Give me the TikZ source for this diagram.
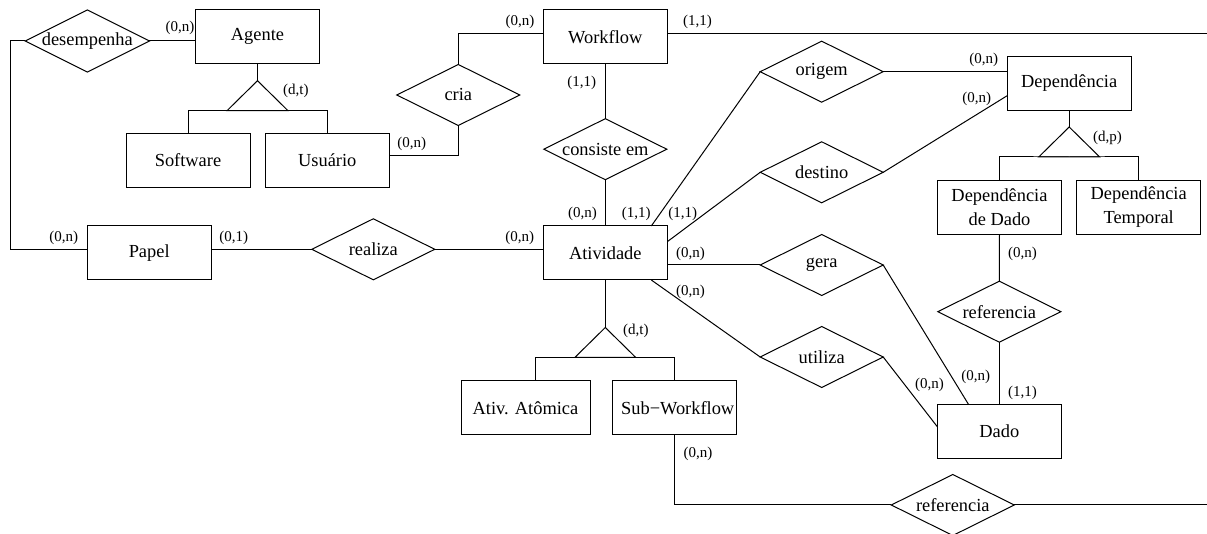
\documentclass[tikz,border=0pt]{standalone}
\usepackage{fontspec}
\setmainfont{Liberation Serif}
\usetikzlibrary{shapes.geometric}
\begin{document}
\begin{tikzpicture}[x=0.5pt,y=-0.5pt,line width=0.5pt,
  entity/.style={draw,rectangle,inner sep=0pt,outer sep=0pt,minimum width=62pt,minimum height=27pt,
    font=\fontsize{9.2}{11.8}\selectfont,align=center},
  rel/.style={draw,diamond,shape aspect=2,inner sep=0pt,outer sep=0pt,minimum width=61.5pt,
    minimum height=30.5pt,font=\fontsize{9.2}{11}\selectfont},
  card/.style={inner sep=0pt,font=\fontsize{7.5}{9}\selectfont}]
\fill[white] (0,0) rectangle (1207,534);
\useasboundingbox (0,0) rectangle (1207,534);

% entities
\node[entity] (agente) at (257.5,36.7) {Agente};
\node[entity] (software) at (188,160.5) {Software};
\node[entity] (usuario) at (327.3,160.5) {Usuário};
\node[entity] (workflow) at (605.3,37) {Workflow};
\node[entity] (dependencia) at (1069.2,83.3) {Dependência};
\node[entity] (depdado) at (999.5,207.2) {Dependência\\de Dado};
\node[entity] (deptemp) at (1138.7,207.2) {Dependência\\Temporal};
\node[entity] (papel) at (149.2,253) {Papel};
\node[entity] (atividade) at (605.3,253) {Atividade};
\node[entity,minimum width=64.5pt] (atomica) at (525.5,408) {Ativ. Atômica};
\node[entity] (subwf) at (674.7,408) {\hspace*{3pt}Sub−Workflow};
\node[entity] (dado) at (999.3,431.2) {Dado};

% relationships
\node[rel] (desempenha) at (87.3,41) {desempenha};
\node[rel] (cria) at (458.3,95) {cria};
\node[rel] (consiste) at (605.3,149.2) {consiste em};
\node[rel] (realiza) at (373.3,249.3) {realiza};
\node[rel] (origem) at (821.7,71.7) {origem};
\node[rel] (destino) at (821.7,172.3) {destino};
\node[rel] (gera) at (821.7,265) {gera};
\node[rel] (utiliza) at (821.7,357) {utiliza};
\node[rel] (ref1) at (999.3,311.7) {referencia};
\node[rel] (ref2) at (952.8,505) {referencia};

% free ends
\coordinate (leftrail) at (10,0);
\coordinate (wfEnd) at (1207,33.3);
\coordinate (refEnd) at (1207,505);

% connectors
\draw (desempenha.west) -- (desempenha.west -| leftrail) |- ([yshift=1.85pt]papel.west);
\draw (desempenha.east) -- (desempenha.east -| agente.west);
\draw (cria.north) |- ([yshift=1.85pt]workflow.west);
\draw (cria.south) |- ([yshift=2.25pt]usuario.east);
\draw ([yshift=1.85pt]workflow.east) -- (wfEnd);
\draw (workflow.south) -- (consiste.north);
\draw (consiste.south) -- (atividade.north);
\draw ([yshift=1.85pt]papel.east) -- (realiza.west);
\draw (realiza.east) -- (realiza.east -| atividade.west);
\draw ([xshift=-8pt]atividade.north east) -- (origem.west);
\draw ([yshift=5.65pt]atividade.east) -- (destino.west);
\draw ([yshift=-6pt]atividade.east) -- (gera.west);
\draw ([xshift=-8pt]atividade.south east) -- (utiliza.west);
\draw (origem.east) -- (origem.east -| dependencia.west);
\draw (destino.east) -- ([yshift=-6.2pt]dependencia.west);
\draw (gera.east) -- ([xshift=-15.45pt]dado.north);
\draw (utiliza.east) -- ([yshift=2.25pt]dado.west);
\draw (depdado.south) -- (ref1.north);
\draw (ref1.south) -- (dado.north);
\draw (subwf.south) |- (ref2.west);
\draw (ref2.east) -- (refEnd);

% specialisations
\draw (agente.south) -- ++(0,17) coordinate (isaA);
\draw (isaA) -- ++(-30.5,30) -- ++(61,0) -- cycle;
\draw (software.north) |- ([yshift=-15pt]isaA) -| (usuario.north);

\draw (dependencia.south) -- ++(0,16.7) coordinate (isaD);
\draw (isaD) -- ++(-30.5,30) -- ++(61,0) -- cycle;
\draw (depdado.north) |- ([yshift=-15pt]isaD) -| (deptemp.north);

\draw (atividade.south) -- ++(0,47.5) coordinate (isaT);
\draw (isaT) -- ++(-30.5,30) -- ++(61,0) -- cycle;
\draw ([xshift=5.1pt]atomica.north) |- ([yshift=-15pt]isaT) -| (subwf.north);

% cardinalities
\node[card] (k1) at (180,28.3) {(0,n)};
\node[card] (k2) at (295.8,91.3) {(d,t)};
\node[card] (k3) at (520,21.7) {(0,n)};
\node[card] (k4) at (697.5,21.7) {(1,1)};
\node[card] (k5) at (581.7,83.3) {(1,1)};
\node[card] (k6) at (411.7,144.3) {(0,n)};
\node[card] (k7) at (983.8,60) {(0,n)};
\node[card] (k8) at (976.7,99) {(0,n)};
\node[card] (k9) at (1107.5,137.7) {(d,p)};
\node[card] (k10) at (1022.5,254) {(0,n)};
\node[card] (k11) at (1022.5,392.7) {(1,1)};
\node[card] (k12) at (975.8,376.7) {(0,n)};
\node[card] (k13) at (929.5,385) {(0,n)};
\node[card] (k14) at (63.8,238.3) {(0,n)};
\node[card] (k15) at (233.8,238.3) {(0,1)};
\node[card] (k16) at (519.7,238.3) {(0,n)};
\node[card] (k17) at (582.5,214.3) {(0,n)};
\node[card] (k18) at (636.2,214.3) {(1,1)};
\node[card] (k19) at (682.8,214.3) {(1,1)};
\node[card] (k20) at (690.5,254) {(0,n)};
\node[card] (k21) at (690.5,292.3) {(0,n)};
\node[card] (k22) at (635.8,330.7) {(d,t)};
\node[card] (k23) at (698,454.3) {(0,n)};
\end{tikzpicture}
\end{document}
